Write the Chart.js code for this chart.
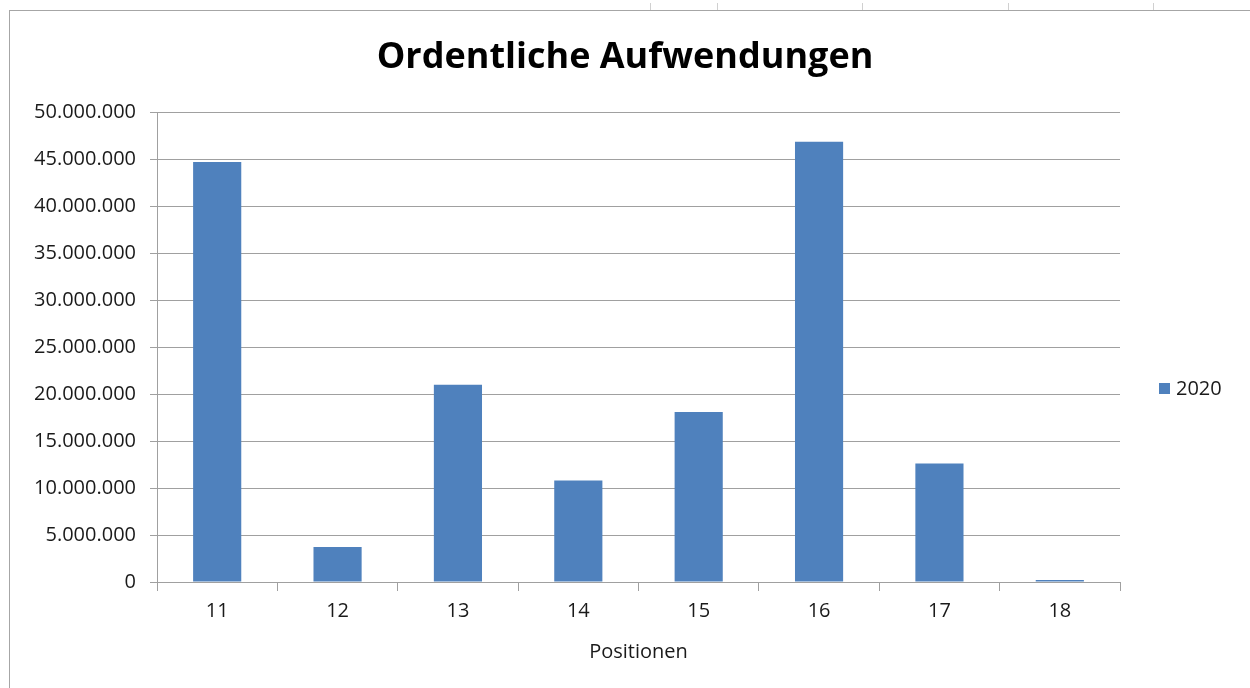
<!DOCTYPE html>
<html>
<head>
<meta charset="utf-8">
<script src="https://cdn.jsdelivr.net/npm/chart.js@4"></script>
<style>
  html, body { margin: 0; padding: 0; background: #fff; overflow: hidden; }
  .frame { position: absolute; left: 9px; top: 10px; width: 1400px; height: 800px; border: 1px solid #a6a6a6; }
  .cell { position: absolute; top: 3px; width: 1px; height: 7px; background: #d0d0d0; }
  .wrap { position: absolute; left: 0; top: 0; width: 1250px; height: 688px; }
</style>
</head>
<body>
<div class="cell" style="left:650px"></div>
<div class="cell" style="left:717px"></div>
<div class="cell" style="left:862px"></div>
<div class="cell" style="left:1008px"></div>
<div class="cell" style="left:1153px"></div>
<div class="frame"></div>
<div class="wrap"><canvas id="chart" width="1250" height="688"></canvas></div>
<script>
// Daten
const positionen = ['11', '12', '13', '14', '15', '16', '17', '18'];
const werte2020 = [44700000, 3730000, 21000000, 10800000, 18100000, 46850000, 12600000, 200000];
const yTicks = [0, 5000000, 10000000, 15000000, 20000000, 25000000, 30000000, 35000000, 40000000, 45000000, 50000000];

const blau = '#4f81bd';
const grau = '#a0a0a0';
const schrift = "'Open Sans', sans-serif";

// Tausenderpunkte wie in Excel (de-DE)
function format(v) {
    return String(Math.round(v)).replace(/\B(?=(\d{3})+(?!\d))/g, '.');
}

// Legende rechts, etwas unter der Mitte wie im Original
const legendePlugin = {
    id: 'legende',
    afterDraw(chart) {
        const c = chart.ctx;
        const ds = chart.data.datasets[0];
        const x = chart.chartArea.right + 39;
        const y = 389;
        c.save();
        c.fillStyle = ds.backgroundColor;
        c.fillRect(x, y - 6, 11, 11);
        c.fillStyle = '#1a1a1a';
        c.font = '20px ' + schrift;
        c.textBaseline = 'middle';
        c.fillText(ds.label, x + 17, y);
        c.restore();
    }
};

new Chart(document.getElementById('chart').getContext('2d'), {
    type: 'bar',
    data: {
        labels: positionen,
        datasets: [{
            label: '2020',
            data: werte2020,
            backgroundColor: blau,
            categoryPercentage: 1,
            barPercentage: 0.4
        }]
    },
    plugins: [legendePlugin],
    options: {
        responsive: false,
        animation: false,
        layout: { padding: { left: 0, right: 0, top: 0, bottom: 20 } },
        plugins: {
            legend: { display: false },
            tooltip: { enabled: false },
            title: {
                display: true,
                text: 'Ordentliche Aufwendungen',
                color: '#000',
                font: { family: schrift, size: 36, weight: 'bold' },
                padding: { top: 36, bottom: 33 }
            }
        },
        scales: {
            x: {
                grid: { drawOnChartArea: false, color: grau, tickLength: 9, offset: true },
                border: { color: grau },
                ticks: { color: '#1a1a1a', font: { family: schrift, size: 20 }, padding: 8, maxRotation: 0 },
                title: {
                    display: true,
                    text: 'Positionen',
                    color: '#1a1a1a',
                    font: { family: schrift, size: 20 },
                    padding: { top: 9, bottom: 4 }
                }
            },
            y: {
                min: 0,
                max: 50000000,
                afterBuildTicks(scale) {
                    scale.ticks = yTicks.map(v => ({ value: v }));
                },
                afterFit(scale) { scale.width = 157; },
                grid: { color: grau, tickLength: 7 },
                border: { color: grau },
                ticks: {
                    color: '#1a1a1a',
                    font: { family: schrift, size: 20 },
                    padding: 14,
                    callback: v => format(v)
                }
            },
            // leere Achse rechts als Platz für die Legende, damit der Titel mittig bleibt
            rechts: {
                type: 'linear',
                position: 'right',
                grid: { display: false },
                border: { display: false },
                ticks: { display: false },
                afterFit(scale) { scale.width = 130; }
            }
        }
    }
});
</script>
</body>
</html>
